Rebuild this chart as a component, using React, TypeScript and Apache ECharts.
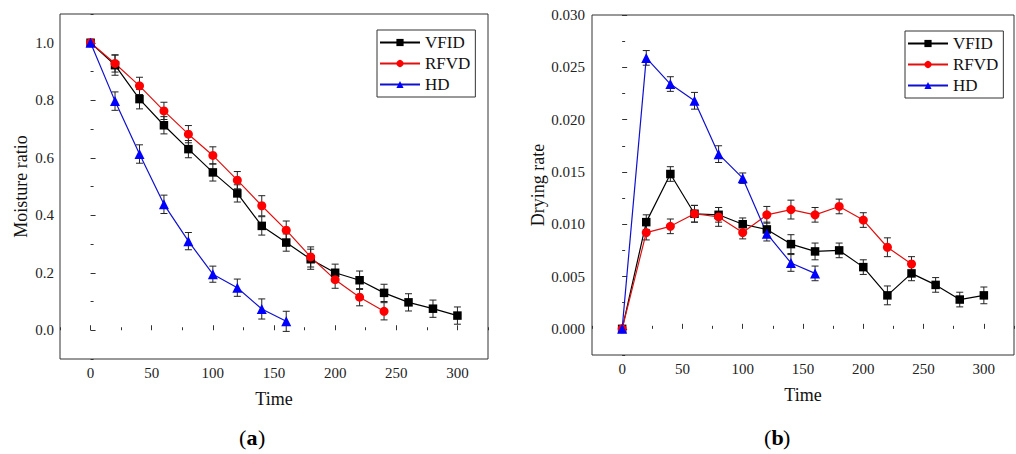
import React, { useEffect, useRef } from "react";
import * as echarts from "echarts";

const times = [0, 20, 40, 60, 80, 100, 120, 140, 160, 180, 200, 220, 240, 260, 280, 300];
const seriesNames = ["VFID", "RFVD", "HD"];

// (a) Moisture ratio
const vfidMR = [1.0, 0.922, 0.804, 0.713, 0.63, 0.549, 0.476, 0.363, 0.305, 0.247, 0.2, 0.174, 0.13, 0.097, 0.075, 0.051];
const rfvdMR = [1.0, 0.928, 0.85, 0.763, 0.682, 0.608, 0.522, 0.433, 0.348, 0.255, 0.176, 0.115, 0.066];
const hdMR = [1.0, 0.797, 0.613, 0.438, 0.31, 0.195, 0.148, 0.074, 0.031];
const vfidMRErr = [0, 0.035, 0.034, 0.03, 0.03, 0.03, 0.03, 0.032, 0.03, 0.035, 0.03, 0.032, 0.03, 0.03, 0.03, 0.03];
const rfvdMRErr = [0, 0.03, 0.03, 0.03, 0.03, 0.03, 0.03, 0.035, 0.032, 0.035, 0.03, 0.03, 0.03];
const hdMRErr = [0, 0.032, 0.032, 0.032, 0.03, 0.028, 0.03, 0.035, 0.035];

// (b) Drying rate
const vfidDR = [0, 0.0102, 0.0148, 0.011, 0.0109, 0.01, 0.0095, 0.0081, 0.0074, 0.0075, 0.0059, 0.0032, 0.0053, 0.0042, 0.0028, 0.0032];
const rfvdDR = [0, 0.0092, 0.0098, 0.011, 0.0107, 0.0092, 0.0109, 0.0114, 0.0109, 0.0117, 0.0104, 0.0078, 0.0062];
const hdDR = [0, 0.0259, 0.0234, 0.0218, 0.0167, 0.0144, 0.0091, 0.0063, 0.0053];
const vfidDRErr = [0, 0.0007, 0.0007, 0.0008, 0.0007, 0.0006, 0.0007, 0.0009, 0.0008, 0.0007, 0.0007, 0.0009, 0.0007, 0.0007, 0.0007, 0.0008];
const rfvdDRErr = [0, 0.0007, 0.0007, 0.0008, 0.0009, 0.0006, 0.0008, 0.0009, 0.0007, 0.0007, 0.0007, 0.0009, 0.0007];
const hdDRErr = [0, 0.0007, 0.0007, 0.0008, 0.0008, 0.0005, 0.0007, 0.0008, 0.0007];

const FONT = "Liberation Serif";
const styles = [
  { line: "#000000", fill: "#000000", symbol: "rect", size: 8.5 },
  { line: "#e01010", fill: "#ff0000", symbol: "circle", size: 9 },
  { line: "#1010d0", fill: "#0000ff", symbol: "triangle", size: 10 },
];

function pairs(vals: number[]) {
  return vals.map((v, i) => [times[i], v]);
}
function errTriples(vals: number[], errs: number[]) {
  return vals.map((v, i) => [times[i], v, errs[i]]).filter((d) => d[2] > 0);
}

function errorSeries(data: number[][], axisIdx: number) {
  return {
    type: "custom",
    name: "err",
    xAxisIndex: axisIdx,
    yAxisIndex: axisIdx,
    z: 1,
    silent: true,
    encode: { x: 0, y: 1 },
    data,
    renderItem: (params: any, api: any) => {
      const x = api.value(0);
      const y = api.value(1);
      const e = api.value(2);
      const hi = api.coord([x, y + e]);
      const lo = api.coord([x, y - e]);
      const cap = 3.5;
      const st = { stroke: "#222", lineWidth: 1 };
      return {
        type: "group",
        children: [
          { type: "line", shape: { x1: hi[0], y1: hi[1], x2: lo[0], y2: lo[1] }, style: st },
          { type: "line", shape: { x1: hi[0] - cap, y1: hi[1], x2: hi[0] + cap, y2: hi[1] }, style: st },
          { type: "line", shape: { x1: lo[0] - cap, y1: lo[1], x2: lo[0] + cap, y2: lo[1] }, style: st },
        ],
      };
    },
  };
}

function lineSeries(idx: number, vals: number[], axisIdx: number) {
  const s = styles[idx];
  return {
    type: "line",
    name: seriesNames[idx],
    xAxisIndex: axisIdx,
    yAxisIndex: axisIdx,
    z: 3,
    data: pairs(vals),
    symbol: s.symbol,
    symbolSize: s.size,
    lineStyle: { color: s.line, width: 1.2 },
    itemStyle: { color: s.fill, borderWidth: 0 },
  };
}

const labelStyle = { fontFamily: FONT, fontSize: 15, color: "#222" };

function mainX(grid: number) {
  return {
    type: "value",
    gridIndex: grid,
    min: -25,
    max: 325,
    splitNumber: 7,
    position: "bottom",
    name: "Time",
    nameLocation: "middle",
    nameGap: 31,
    nameTextStyle: { fontFamily: FONT, fontSize: 18, color: "#111" },
    axisLine: { show: false },
    axisTick: { show: true, inside: true, length: 5, lineStyle: { color: "#333" } },
    axisLabel: { ...labelStyle, margin: 6, showMinLabel: false, showMaxLabel: false },
    splitLine: { show: false },
  };
}
function minorX(grid: number) {
  return {
    type: "value",
    gridIndex: grid,
    min: -25,
    max: 325,
    interval: 50,
    position: "bottom",
    axisLine: { show: false },
    axisTick: { show: true, inside: true, length: 3, lineStyle: { color: "#333" } },
    axisLabel: { show: false },
    splitLine: { show: false },
  };
}

function panelLabel(x: number, letter: string) {
  const base = { fontFamily: FONT, fontSize: 22, fill: "#000", verticalAlign: "middle" };
  return {
    type: "group",
    x,
    y: 437,
    children: [
      { type: "text", x: -14, y: 0, style: { ...base, text: "(", fontWeight: "normal", align: "left" } },
      { type: "text", x: -6.5, y: 0, style: { ...base, text: letter, fontWeight: "bold", align: "left" } },
      { type: "text", x: 5, y: 0, style: { ...base, text: ")", fontWeight: "normal", align: "left" } },
    ],
  };
}

export default function App() {
  const ref = useRef<HTMLDivElement>(null);
  useEffect(() => {
    if (!ref.current) return;
    const chart = echarts.init(ref.current, undefined, { renderer: "svg" });
    const option: any = {
      animation: false,
      backgroundColor: "#ffffff",
      textStyle: { fontFamily: FONT },
      grid: [
        { left: 60, top: 14, width: 428, height: 345, show: true, borderColor: "#333", borderWidth: 1, backgroundColor: "transparent" },
        { left: 592, top: 15, width: 422, height: 340, show: true, borderColor: "#333", borderWidth: 1, backgroundColor: "transparent" },
      ],
      xAxis: [mainX(0), mainX(1), minorX(0), minorX(1)],
      yAxis: [
        {
          type: "value",
          gridIndex: 0,
          min: -0.1,
          max: 1.1,
          splitNumber: 6,
          position: "left",
          name: "Moisture ratio",
          nameLocation: "middle",
          nameGap: 30,
          nameTextStyle: { fontFamily: FONT, fontSize: 18, color: "#111" },
          axisLine: { show: false },
          axisTick: { show: true, inside: true, length: 5, lineStyle: { color: "#333" } },
          axisLabel: { ...labelStyle, margin: 6, showMinLabel: false, showMaxLabel: false, formatter: (v: number) => v.toFixed(1) },
          splitLine: { show: false },
        },
        {
          type: "value",
          gridIndex: 1,
          min: -0.0025,
          max: 0.03,
          splitNumber: 6,
          position: "left",
          name: "Drying rate",
          nameLocation: "middle",
          nameGap: 42,
          nameTextStyle: { fontFamily: FONT, fontSize: 18, color: "#111" },
          axisLine: { show: false },
          axisTick: { show: true, inside: true, length: 5, lineStyle: { color: "#333" } },
          axisLabel: { ...labelStyle, margin: 7, showMinLabel: false, showMaxLabel: true, formatter: (v: number) => v.toFixed(3) },
          splitLine: { show: false },
        },
        {
          type: "value",
          gridIndex: 0,
          min: -0.1,
          max: 1.1,
          interval: 0.2,
          position: "left",
          axisLine: { show: false },
          axisTick: { show: true, inside: true, length: 3, lineStyle: { color: "#333" } },
          axisLabel: { show: false },
          splitLine: { show: false },
        },
        {
          type: "value",
          gridIndex: 1,
          min: -0.0025,
          max: 0.03,
          interval: 0.005,
          position: "left",
          axisLine: { show: false },
          axisTick: { show: true, inside: true, length: 3, lineStyle: { color: "#333" } },
          axisLabel: { show: false },
          splitLine: { show: false },
        },
      ],
      legend: [
        {
          orient: "vertical",
          left: 377,
          top: 30,
          itemWidth: 40,
          itemHeight: 9,
          itemGap: 4,
          padding: [4, 5, 4, 2],
          borderColor: "#333",
          borderWidth: 1,
          textStyle: { fontFamily: FONT, fontSize: 17, color: "#111" },
          data: seriesNames,
        },
        {
          orient: "vertical",
          left: 905,
          top: 31,
          itemWidth: 40,
          itemHeight: 9,
          itemGap: 4,
          padding: [4, 5, 4, 2],
          borderColor: "#333",
          borderWidth: 1,
          textStyle: { fontFamily: FONT, fontSize: 17, color: "#111" },
          data: seriesNames,
        },
      ],
      graphic: [panelLabel(253, "a"), panelLabel(778, "b")],
      series: [
        errorSeries(errTriples(vfidMR, vfidMRErr), 0),
        errorSeries(errTriples(rfvdMR, rfvdMRErr), 0),
        errorSeries(errTriples(hdMR, hdMRErr), 0),
        lineSeries(0, vfidMR, 0),
        lineSeries(1, rfvdMR, 0),
        lineSeries(2, hdMR, 0),
        errorSeries(errTriples(vfidDR, vfidDRErr), 1),
        errorSeries(errTriples(rfvdDR, rfvdDRErr), 1),
        errorSeries(errTriples(hdDR, hdDRErr), 1),
        lineSeries(0, vfidDR, 1),
        lineSeries(1, rfvdDR, 1),
        lineSeries(2, hdDR, 1),
      ],
    };
    chart.setOption(option);
    return () => chart.dispose();
  }, []);
  return <div ref={ref} style={{ position: "fixed", left: 0, top: 0, width: 1016, height: 454 }} />;
}
